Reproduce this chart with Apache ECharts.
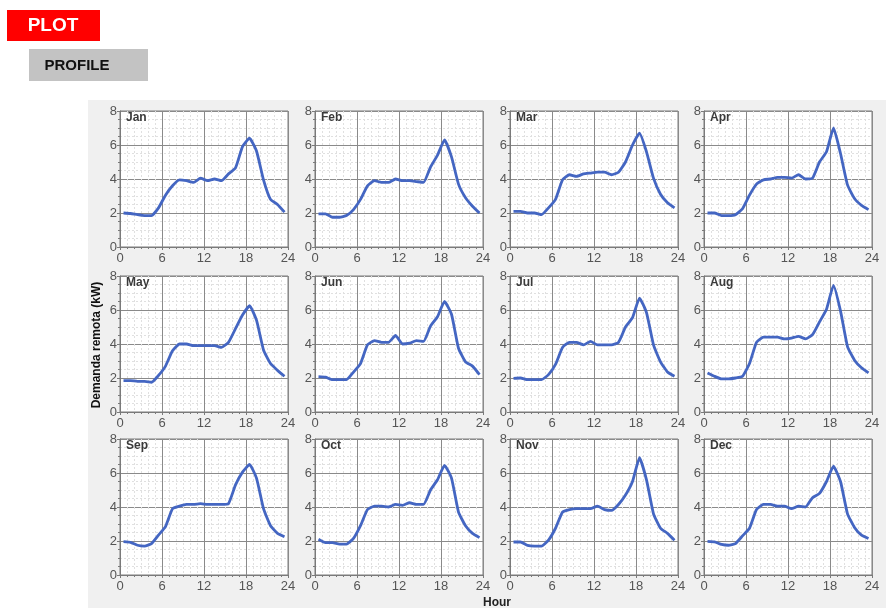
<!DOCTYPE html>
<html>
<head>
<meta charset="utf-8">
<script src="https://cdn.jsdelivr.net/npm/echarts@6/dist/echarts.min.js"></script>
<style>
html,body{margin:0;padding:0;background:#fff;}
#c{width:886px;height:608px;}
</style>
</head>
<body>
<div id="c"></div>
<script>
const months = ['Jan','Feb','Mar','Apr','May','Jun','Jul','Aug','Sep','Oct','Nov','Dec'];
const hours = [0.5,1.5,2.5,3.5,4.5,5.5,6.5,7.5,8.5,9.5,10.5,11.5,12.5,13.5,14.5,15.5,16.5,17.5,18.5,19.5,20.5,21.5,22.5,23.5];
const xTicks = [0,6,12,18,24];
const yTicks = [0,2,4,6,8];

const jan = [2.0,1.97,1.9,1.85,1.85,2.3,3.05,3.6,3.95,3.9,3.8,4.05,3.9,4.0,3.9,4.3,4.65,5.9,6.4,5.65,3.95,2.8,2.5,2.05];
const feb = [1.95,1.95,1.75,1.75,1.85,2.2,2.8,3.6,3.9,3.8,3.8,4.0,3.9,3.9,3.85,3.8,4.7,5.4,6.3,5.3,3.7,2.9,2.4,2.0];
const mar = [2.1,2.1,2.0,2.0,1.9,2.3,2.8,3.95,4.25,4.15,4.3,4.35,4.4,4.4,4.25,4.4,5.0,6.0,6.7,5.6,4.05,3.1,2.6,2.3];
const apr = [2.0,2.0,1.85,1.85,1.9,2.25,3.05,3.7,3.95,4.0,4.1,4.1,4.05,4.25,4.0,4.05,5.0,5.6,7.0,5.5,3.65,2.85,2.45,2.2];
const may = [1.85,1.85,1.8,1.8,1.75,2.15,2.7,3.6,4.0,4.0,3.9,3.9,3.9,3.9,3.8,4.1,4.9,5.7,6.25,5.4,3.65,2.85,2.45,2.1];
const jun = [2.08,2.05,1.9,1.9,1.9,2.35,2.85,3.95,4.2,4.1,4.1,4.5,4.0,4.05,4.2,4.15,5.05,5.6,6.5,5.75,3.75,2.95,2.7,2.2];
const jul = [1.98,2.0,1.9,1.9,1.9,2.2,2.8,3.8,4.1,4.1,3.95,4.15,3.95,3.95,3.95,4.1,5.0,5.55,6.7,5.85,3.95,2.95,2.35,2.1];
const aug = [2.3,2.1,1.95,1.95,2.0,2.1,2.85,4.1,4.4,4.4,4.4,4.3,4.35,4.45,4.3,4.55,5.3,6.05,7.45,5.95,3.85,3.05,2.6,2.3];
const sep = [1.96,1.92,1.75,1.7,1.85,2.35,2.85,3.9,4.05,4.15,4.15,4.2,4.15,4.15,4.15,4.2,5.3,6.05,6.5,5.7,3.9,2.9,2.45,2.25];
const oct = [2.1,1.9,1.9,1.82,1.82,2.15,2.9,3.85,4.05,4.05,4.0,4.15,4.1,4.25,4.15,4.15,5.0,5.6,6.45,5.7,3.7,2.9,2.45,2.2];
const nov = [1.94,1.94,1.74,1.7,1.7,2.05,2.75,3.7,3.85,3.9,3.9,3.9,4.05,3.85,3.8,4.15,4.7,5.5,6.9,5.6,3.6,2.75,2.45,2.05];
const dec = [1.98,1.95,1.8,1.75,1.85,2.3,2.75,3.85,4.15,4.15,4.05,4.05,3.9,4.05,4.0,4.55,4.8,5.5,6.4,5.5,3.6,2.8,2.35,2.15];
const seriesValues = [jan,feb,mar,apr,may,jun,jul,aug,sep,oct,nov,dec];

const colLefts = [120, 315, 510, 704];
const rowTops = [111, 276, 439];
const gw = 168, gh = 136;
const FONT = 'Arial, "Liberation Sans", sans-serif';

const grids = [], xAxes = [], yAxes = [], series = [], titles = [];
months.forEach((m, i) => {
  const r = Math.floor(i / 4), c = i % 4;
  const left = colLefts[c], top = rowTops[r];
  grids.push({left: left, top: top, width: gw, height: gh, show: true,
    backgroundColor: '#ffffff', borderColor: '#7a7a7a', borderWidth: 1, containLabel: false});
  xAxes.push({type: 'value', gridIndex: i, min: xTicks[0], max: xTicks[xTicks.length-1], interval: 6,
    axisLine: {show: true, lineStyle: {color: '#7a7a7a', width: 1}},
    axisTick: {show: true, length: 3, lineStyle: {color: '#7a7a7a'}},
    minorTick: {show: true, splitNumber: 6, length: 2, lineStyle: {color: '#7a7a7a'}},
    axisLabel: {color: '#555', fontSize: 13, fontFamily: FONT, margin: 5},
    splitLine: {show: true, lineStyle: {color: '#8a8a8a', width: 1}},
    minorSplitLine: {show: true, lineStyle: {color: '#e0e0e0', width: 1, type: [2,2]}}
  });
  yAxes.push({type: 'value', gridIndex: i, min: yTicks[0], max: yTicks[yTicks.length-1], interval: 2,
    axisLine: {show: true, lineStyle: {color: '#7a7a7a', width: 1}},
    axisTick: {show: true, length: 3, lineStyle: {color: '#7a7a7a'}},
    minorTick: {show: true, splitNumber: 4, length: 2, lineStyle: {color: '#7a7a7a'}},
    axisLabel: {color: '#555', fontSize: 13, fontFamily: FONT, margin: 3},
    splitLine: {show: true, lineStyle: {color: '#8a8a8a', width: 1}},
    minorSplitLine: {show: true, lineStyle: {color: '#e0e0e0', width: 1, type: [2,2]}}
  });
  series.push({type: 'line', xAxisIndex: i, yAxisIndex: i, showSymbol: false, symbol: 'none',
    data: hours.map((h, k) => [h, seriesValues[i][k]]),
    lineStyle: {color: '#4466c2', width: 2.8, join: 'round'}, smooth: 0.15, z: 5});
  titles.push({text: m, left: left + 6, top: top + 1, padding: 0,
    textStyle: {fontSize: 12, fontWeight: 'bold', color: '#3a3a3a', fontFamily: FONT}});
});

const chart = echarts.init(document.getElementById('c'), null, {renderer: 'canvas'});
chart.setOption({
  animation: false,
  backgroundColor: '#ffffff',
  title: titles,
  grid: grids,
  xAxis: xAxes,
  yAxis: yAxes,
  series: series,
  graphic: [
    {type: 'rect', z: -100, shape: {x: 88, y: 100, width: 798, height: 508}, style: {fill: '#f0f0f0'}},
    {type: 'rect', shape: {x: 7, y: 10, width: 93, height: 31}, style: {fill: '#ff0000'}},
    {type: 'text', x: 53, y: 26, style: {text: 'PLOT', fill: '#fff', font: 'bold 19px ' + FONT, align: 'center', verticalAlign: 'middle'}},
    {type: 'rect', shape: {x: 29, y: 49, width: 119, height: 32}, style: {fill: '#c3c3c3'}},
    {type: 'text', x: 77, y: 66, style: {text: 'PROFILE', fill: '#111', font: 'bold 15px ' + FONT, align: 'center', verticalAlign: 'middle'}},
    {type: 'text', x: 97, y: 345, rotation: Math.PI / 2, style: {text: 'Demanda remota (kW)', fill: '#111', font: 'bold 12px ' + FONT, align: 'center', verticalAlign: 'middle'}},
    {type: 'text', x: 497, y: 603, style: {text: 'Hour', fill: '#222', font: 'bold 12px ' + FONT, align: 'center', verticalAlign: 'middle'}}
  ]
});
</script>
</body>
</html>
